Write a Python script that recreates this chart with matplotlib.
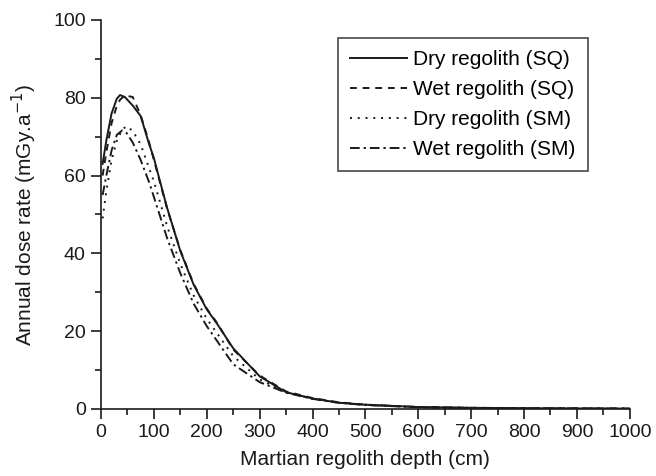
import matplotlib
matplotlib.use("Agg")
import matplotlib.pyplot as plt
from matplotlib.ticker import MultipleLocator

plt.rcParams['font.family'] = ['Liberation Sans', 'DejaVu Sans']

depth_sq = [3, 10, 20, 30, 36, 45, 60, 75, 90, 100, 111, 125, 150, 175, 200,
            220, 250, 300, 350, 400, 450, 500, 600, 700, 800, 900, 1000]
dry_sq = [63, 69, 76, 79.8, 80.7, 80.2, 78, 75.3, 68.5, 64.5, 58.8, 51.7, 40.6,
          32, 25.6, 21.8, 15.6, 8.4, 4.3, 2.7, 1.6, 1.1, 0.5, 0.3, 0.2, 0.15, 0.1]
wet_sq = [60, 66, 73.5, 78, 79.5, 80.6, 80.2, 75.5, 69, 64, 58.5, 51.5, 40.8,
          32.2, 25.8, 22, 15.3, 8.6, 4.5, 2.8, 1.7, 1.1, 0.5, 0.3, 0.2, 0.15, 0.1]

depth_sm = [3, 10, 20, 30, 40, 48, 60, 75, 92, 100, 125, 150, 175, 200, 250,
            300, 350, 400, 450, 500, 600, 700, 800, 900, 1000]
dry_sm = [49, 56, 64, 69, 71.8, 72.7, 71.5, 68, 61.5, 58.5, 47, 37.3, 29.2, 23.2,
          13.6, 7.6, 4.3, 2.6, 1.6, 1.1, 0.5, 0.3, 0.2, 0.15, 0.1]
wet_sm = [55, 60, 66.5, 70.5, 71.6, 71, 68.5, 64, 57.9, 54.5, 43.9, 34.9, 27.1, 21.3,
          11.5, 6.9, 4.2, 2.6, 1.6, 1.0, 0.45, 0.25, 0.15, 0.1, 0.1]

labels = ["Dry regolith (SQ)", "Wet regolith (SQ)", "Dry regolith (SM)", "Wet regolith (SM)"]

fig = plt.figure(figsize=(6.56, 4.76), dpi=100)
ax = fig.add_axes([0.154, 0.1408, 0.806, 0.8172])

col = '#1a1a1a'
ax.plot(depth_sq, dry_sq, color=col, lw=1.4, ls='-', label=labels[0])
ax.plot(depth_sq, wet_sq, color=col, lw=1.4, ls=(0, (3.5, 3)), label=labels[1])
ax.plot(depth_sm, dry_sm, color=col, lw=1.4, ls=(0, (1, 3)), label=labels[2])
ax.plot(depth_sm, wet_sm, color=col, lw=1.4, ls=(0, (5, 2, 1.2, 2)), label=labels[3])

ax.set_xlim(0, 1000)
ax.set_ylim(0, 100)
ax.xaxis.set_major_locator(MultipleLocator(100))
ax.xaxis.set_minor_locator(MultipleLocator(50))
ax.yaxis.set_major_locator(MultipleLocator(20))
ax.yaxis.set_minor_locator(MultipleLocator(10))
ax.spines['top'].set_visible(False)
ax.spines['right'].set_visible(False)
for s in ('left', 'bottom'):
    ax.spines[s].set_linewidth(1.2)
    ax.spines[s].set_color(col)
ax.tick_params(which='major', direction='out', length=7, width=1.2, labelsize=14,
               colors=col, pad=4)
ax.tick_params(which='minor', direction='out', length=4, width=1.2, colors=col)

ax.set_xlabel("Martian regolith depth (cm)", fontsize=15, color=col, labelpad=6)
ax.set_ylabel("Annual dose rate (mGy.a$^{-1}$)", fontsize=15, color=col, labelpad=10)

leg = ax.legend(loc='upper left', bbox_to_anchor=(0.448, 0.954), fontsize=15,
                frameon=True, fancybox=False, edgecolor=col, handlelength=2.7,
                handletextpad=0.3, borderpad=0.6, labelspacing=0.52,
                borderaxespad=0)
leg.get_frame().set_linewidth(1.2)

fig.savefig("out.png", dpi=100)
